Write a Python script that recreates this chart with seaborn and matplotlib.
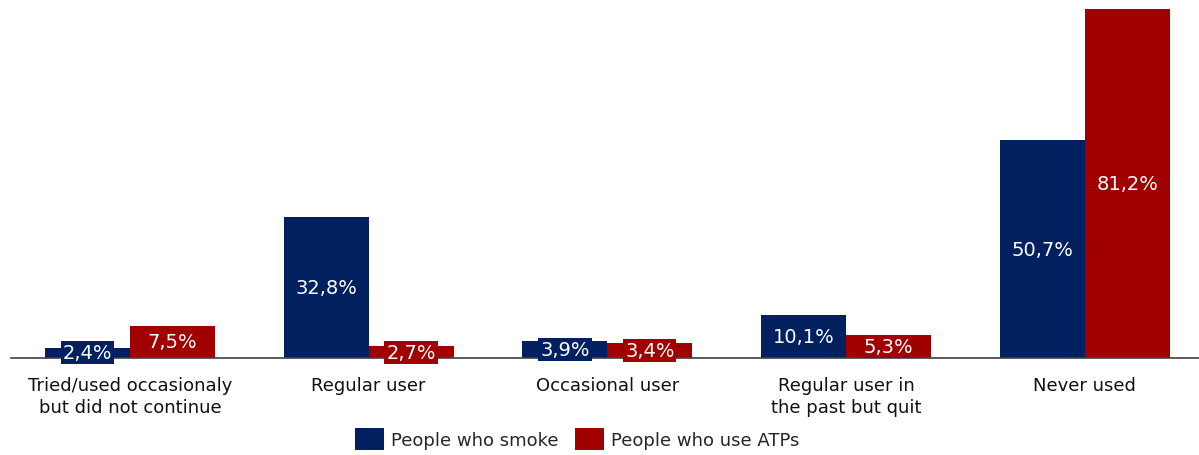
import pandas as pd
import numpy as np
import seaborn as sns
import matplotlib.pyplot as plt

# data
categories = ['Tried/used occasionaly\nbut did not continue', 'Regular user', 'Occasional user',
              'Regular user in\nthe past but quit', 'Never used']
smoke = [2.4, 32.8, 3.9, 10.1, 50.7]
atps = [7.5, 2.7, 3.4, 5.3, 81.2]
series = ['People who smoke', 'People who use ATPs']

df = pd.DataFrame({
    'category': categories * 2,
    'value': smoke + atps,
    'group': [series[0]] * 5 + [series[1]] * 5,
})

colors = {series[0]: '#002060', series[1]: '#A00000'}

sns.set_style('white')
plt.rcParams['font.family'] = ['DejaVu Sans']

fig = plt.figure(figsize=(11.99, 4.56), dpi=100)
ax = fig.add_axes([10.6 / 1199, 1 - 359 / 456, 1193.4 / 1199, 359 / 456])

sns.barplot(data=df, x='category', y='value', hue='group', palette=colors,
            width=0.712, saturation=1, linewidth=0, ax=ax, legend=True)

ax.set_ylim(0, 83.5)
ax.set_xlabel('')
ax.set_ylabel('')
ax.set_yticks([])
for s in ['top', 'right', 'left']:
    ax.spines[s].set_visible(False)
ax.spines['bottom'].set_color('#404040')
ax.spines['bottom'].set_linewidth(1.2)
ax.tick_params(axis='x', length=0, labelsize=13, pad=13, colors='#111111')
for lbl in ax.get_xticklabels():
    lbl.set_linespacing(1.25)

# value labels in boxes at the middle of each bar
for cont, name in zip(ax.containers, series):
    for bar in cont:
        h = bar.get_height()
        ax.text(bar.get_x() + bar.get_width() / 2, h / 2, f'{h:.1f}%'.replace('.', ','),
                ha='center', va='center', color='white', fontsize=14,
                bbox=dict(boxstyle='square,pad=0.1', fc=colors[name], ec='none'))

ax.legend(loc='center', bbox_to_anchor=(0.475, -0.226), ncol=2, frameon=False,
          fontsize=13, handlelength=1.6, handleheight=1.5, handletextpad=0.4,
          columnspacing=0.9)

fig.savefig('out.png', dpi=100)
